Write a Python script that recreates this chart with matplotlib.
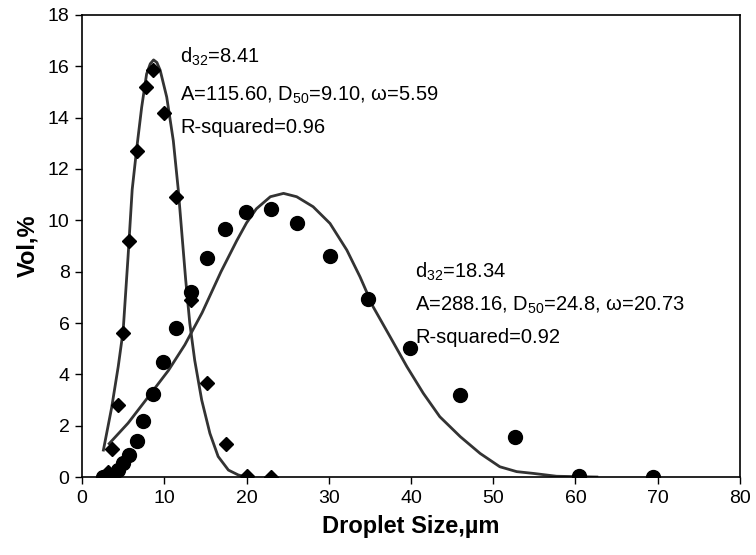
import matplotlib.pyplot as plt

plt.rcParams['font.family'] = ['Liberation Sans', 'DejaVu Sans']
plt.rcParams['mathtext.default'] = 'regular'

# measured points, small droplets (diamonds)
x_small = [2.6, 3.1, 3.7, 4.4, 4.95, 5.75, 6.7, 7.75, 8.65, 10.0, 11.45, 13.25,
           15.15, 17.45, 20.0, 23.0]
y_small = [0.0, 0.2, 1.1, 2.8, 5.6, 9.2, 12.7, 15.2, 15.85, 14.2, 10.9, 6.9,
           3.65, 1.3, 0.05, 0.0]

# measured points, large droplets (circles)
x_large = [2.6, 3.0, 3.8, 4.4, 5.0, 5.75, 6.65, 7.45, 8.6, 9.9, 11.4, 13.25,
           15.15, 17.4, 19.95, 23.0, 26.1, 30.15, 34.8, 39.9, 45.9, 52.6,
           60.45, 69.45]
y_large = [0.0, 0.0, 0.08, 0.27, 0.53, 0.86, 1.4, 2.2, 3.22, 4.47, 5.82, 7.22,
           8.52, 9.66, 10.34, 10.44, 9.88, 8.6, 6.95, 5.04, 3.2, 1.55,
           0.05, 0.01]

# fitted curves
fit1_x = [2.6, 3.6, 4.4, 5.0, 5.6, 6.1, 6.65, 7.25, 7.85, 8.3, 8.7, 9.1, 9.5,
          10.3, 11.1, 11.7, 12.2, 12.6, 13.1, 13.7, 14.55, 15.55, 16.55,
          17.8, 19.0, 20.0]
fit1_y = [1.05, 2.7, 4.3, 5.7, 8.6, 11.2, 12.8, 14.4, 15.7, 16.1, 16.25,
          16.15, 15.85, 14.8, 13.1, 11.2, 9.25, 7.7, 6.0, 4.55, 3.0, 1.7,
          0.8, 0.27, 0.08, 0.0]

fit2_x = [3.3, 5.6, 8.0, 10.5, 12.5, 14.6, 16.9, 18.8, 20.0, 21.2, 22.9,
          24.5, 26.1, 28.1, 30.15, 32.2, 33.8, 35.4, 37.45, 39.5, 41.5, 43.5,
          46.0, 48.4, 50.8, 52.85, 54.9, 57.7, 62.6]
fit2_y = [1.3, 2.1, 3.1, 4.15, 5.15, 6.4, 8.0, 9.2, 9.9, 10.45, 10.92,
          11.05, 10.92, 10.53, 9.88, 8.84, 7.8, 6.63, 5.47, 4.3, 3.26, 2.35,
          1.57, 0.92, 0.4, 0.21, 0.14, 0.03, 0.0]

fig = plt.figure(figsize=(7.56, 5.55), dpi=100)
ax = fig.add_axes([0.1085, 0.1405, 0.8703, 0.8325])

ax.plot(fit1_x, fit1_y, color='#333333', lw=2, solid_joinstyle='round')
ax.plot(fit2_x, fit2_y, color='#333333', lw=2, solid_joinstyle='round')
ax.plot(x_small, y_small, 'D', color='black', markersize=7, ls='none')
ax.plot(x_large, y_large, 'o', color='black', markersize=10, ls='none')

ax.set_xlim(0, 80)
ax.set_ylim(0, 18)
ax.set_xticks(range(0, 81, 10))
ax.set_yticks(range(0, 19, 2))
ax.tick_params(labelsize=14, length=5, width=1, direction='out', pad=4)
for s in ax.spines.values():
    s.set_linewidth(1.2)

ax.set_xlabel('Droplet Size,µm', fontsize=17, fontweight='bold', labelpad=6)
ax.set_ylabel('Vol,%', fontsize=17, fontweight='bold', labelpad=6)

fs = 14.5
ax.text(11.9, 16.36, 'd$_{32}$=8.41', fontsize=fs, va='center')
ax.text(11.9, 14.88, 'A=115.60, D$_{50}$=9.10, ω=5.59', fontsize=fs, va='center')
ax.text(11.9, 13.63, 'R-squared=0.96', fontsize=fs, va='center')

ax.text(40.5, 7.99, 'd$_{32}$=18.34', fontsize=fs, va='center')
ax.text(40.5, 6.70, 'A=288.16, D$_{50}$=24.8, ω=20.73', fontsize=fs, va='center')
ax.text(40.5, 5.45, 'R-squared=0.92', fontsize=fs, va='center')

fig.savefig('out.png', dpi=100)
